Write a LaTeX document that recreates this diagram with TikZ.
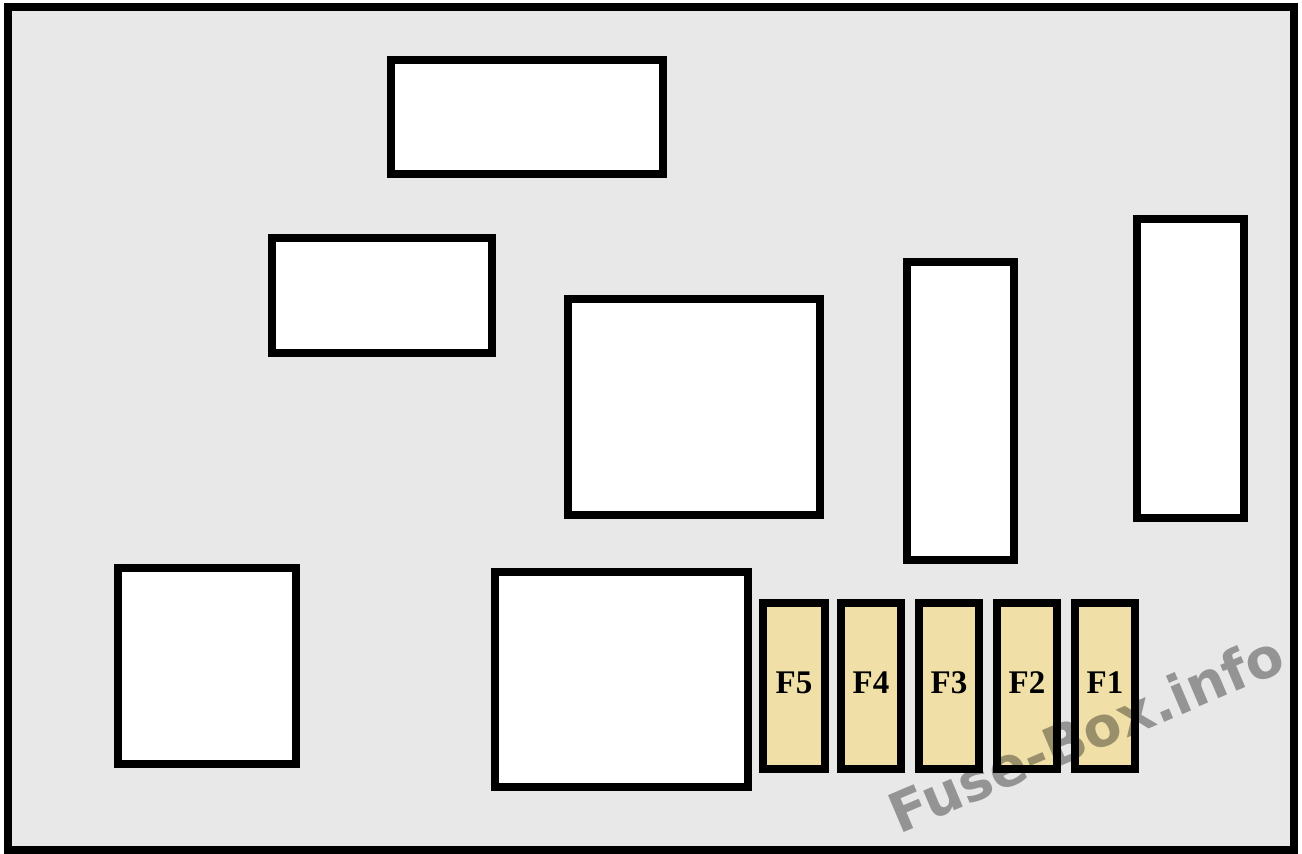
\documentclass[tikz,border=0pt]{standalone}
\usepackage{fontspec}
\setmainfont{Liberation Serif}
\newfontfamily\wmfont{DejaVu Sans}
\definecolor{boxbg}{RGB}{232,232,232}
\definecolor{fusefill}{RGB}{240,224,168}
\begin{document}
\begin{tikzpicture}[x=1pt,y=-1pt,
  frame/.style={draw=black,line width=8pt,fill=boxbg},
  relay/.style={draw=black,line width=8pt,fill=white},
  fusebox/.style={draw=black,line width=8pt,fill=fusefill},
  fuselabel/.style={font=\bfseries\fontsize{33}{33}\selectfont,anchor=base,inner sep=0pt},
  watermark/.style={font=\wmfont\bfseries\fontsize{55}{55}\selectfont,text=black,text opacity=0.36,rotate=23,inner sep=0pt}]
\useasboundingbox (0,0) rectangle (1302,854);
\fill[white] (0,0) rectangle (1302,854);
\draw[frame] (8,7) rectangle (1294,850);
% relays / blocks
\draw[relay] (391,60) rectangle (663,174);
\draw[relay] (272,238) rectangle (492,353);
\draw[relay] (568,299) rectangle (820,515);
\draw[relay] (907,262) rectangle (1014,560);
\draw[relay] (1137,219) rectangle (1244,518);
\draw[relay] (118,568) rectangle (296,764);
\draw[relay] (495,572) rectangle (748,787);
% fuses
\draw[fusebox] (763,603) rectangle (825,769);
\draw[fusebox] (841,603) rectangle (901,769);
\draw[fusebox] (919,603) rectangle (979,769);
\draw[fusebox] (997,603) rectangle (1057,769);
\draw[fusebox] (1075,603) rectangle (1135,769);
\node[fuselabel] (f5) at (794,693) {F5};
\node[fuselabel] (f4) at (871,693) {F4};
\node[fuselabel] (f3) at (949,693) {F3};
\node[fuselabel] (f2) at (1027,693) {F2};
\node[fuselabel] (f1) at (1105,693) {F1};
\node[watermark] (wm) at (1086,733) {Fuse-Box.info};
\end{tikzpicture}
\end{document}
